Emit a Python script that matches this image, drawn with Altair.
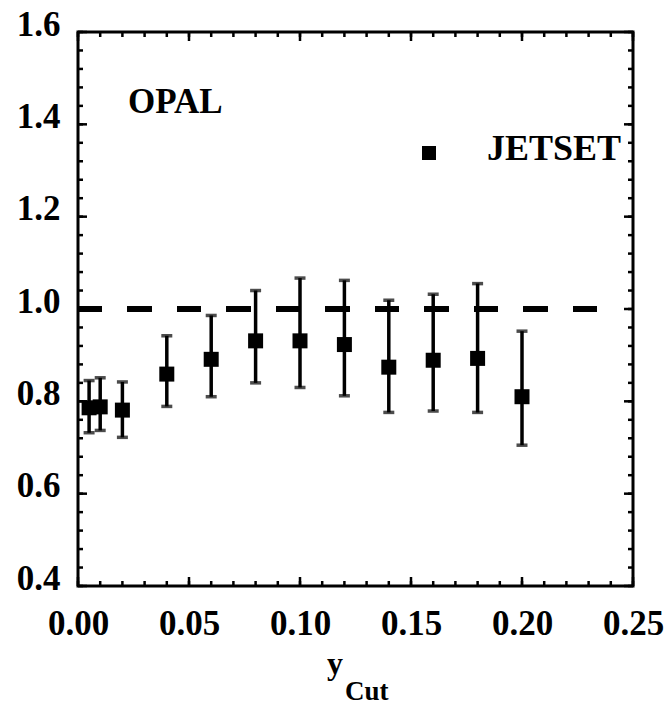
import altair as alt
import pandas as pd

# ---- data ----
ycut = [0.005, 0.01, 0.02, 0.04, 0.06, 0.08, 0.10, 0.12, 0.14, 0.16, 0.18, 0.20]
ratio = [0.786, 0.788, 0.781, 0.859, 0.891, 0.931, 0.931, 0.923, 0.874, 0.889, 0.893, 0.810]
err_hi = [0.845, 0.851, 0.842, 0.942, 0.986, 1.040, 1.067, 1.062, 1.019, 1.032, 1.055, 0.952]
err_lo = [0.732, 0.737, 0.722, 0.789, 0.810, 0.840, 0.830, 0.812, 0.776, 0.779, 0.776, 0.705]

x_major = [0.00, 0.05, 0.10, 0.15, 0.20, 0.25]
y_major = [0.4, 0.6, 0.8, 1.0, 1.2, 1.4, 1.6]
x_minor = [round(i * 0.01, 2) for i in range(26)]
y_minor = [round(0.4 + i * 0.04, 2) for i in range(31)]

ref_level = 1.0
ref_end = 0.2345

W, H = 555, 554
FONT = "Liberation Serif"

df = pd.DataFrame({"ycut": ycut, "ratio": ratio, "hi": err_hi, "lo": err_lo})

xs = alt.Scale(domain=[0, 0.25], nice=False, zero=False)
ys = alt.Scale(domain=[0.4, 1.6], nice=False, zero=False)

xaxis = alt.Axis(values=x_major, format=".2f", ticks=False, domain=False, grid=False,
                 labelFont=FONT, labelFontWeight="bold", labelFontSize=35, labelColor="black",
                 labelPadding=20, title=None, labelFlush=False)
yaxis = alt.Axis(values=y_major, format=".1f", ticks=False, domain=False, grid=False,
                 labelFont=FONT, labelFontWeight="bold", labelFontSize=35, labelColor="black",
                 labelPadding=18, labelOffset=-8, title=None, labelFlush=False)

base = alt.Chart(df)

dash = base.mark_rule(color="black", strokeWidth=5, strokeDash=[24, 25.5]).encode(
    x=alt.datum(0, scale=xs, axis=xaxis, type="quantitative"),
    x2=alt.datum(ref_end),
    y=alt.datum(ref_level, scale=ys, axis=yaxis, type="quantitative"),
)

bars = base.mark_rule(color="black", strokeWidth=3.5).encode(
    x=alt.X("ycut:Q", scale=xs, axis=xaxis),
    y=alt.Y("lo:Q", scale=ys, axis=yaxis),
    y2="hi:Q",
)
cap_hi = base.mark_tick(color="black", orient="horizontal", size=11, thickness=3.5).encode(
    x=alt.X("ycut:Q", scale=xs), y=alt.Y("hi:Q", scale=ys)
)
cap_lo = base.mark_tick(color="black", orient="horizontal", size=11, thickness=3.5).encode(
    x=alt.X("ycut:Q", scale=xs), y=alt.Y("lo:Q", scale=ys)
)
pts = base.mark_square(color="black", size=225, opacity=1).encode(
    x=alt.X("ycut:Q", scale=xs), y=alt.Y("ratio:Q", scale=ys)
)

# inward ticks on all four sides
xmaj = pd.DataFrame({"v": x_major})
xmin = pd.DataFrame({"v": x_minor})
ymaj = pd.DataFrame({"v": y_major})
ymin = pd.DataFrame({"v": y_minor})
MAJ, MIN = 9, 5

def xticks(d, L):
    b = alt.Chart(d).mark_rule(color="black", strokeWidth=2.5).encode(
        x=alt.X("v:Q", scale=xs), y=alt.value(H), y2=alt.value(H - L))
    t = alt.Chart(d).mark_rule(color="black", strokeWidth=2.5).encode(
        x=alt.X("v:Q", scale=xs), y=alt.value(0), y2=alt.value(L))
    return [b, t]

def yticks(d, L):
    l = alt.Chart(d).mark_rule(color="black", strokeWidth=2.5).encode(
        y=alt.Y("v:Q", scale=ys), x=alt.value(0), x2=alt.value(L))
    r = alt.Chart(d).mark_rule(color="black", strokeWidth=2.5).encode(
        y=alt.Y("v:Q", scale=ys), x=alt.value(W), x2=alt.value(W - L))
    return [l, r]

tick_layers = xticks(xmin, MIN) + xticks(xmaj, MAJ) + yticks(ymin, MIN) + yticks(ymaj, MAJ)

# annotations
ann = pd.DataFrame({"a": [0]})
opal = alt.Chart(ann).mark_text(text="OPAL", font=FONT, fontWeight="bold", fontSize=35,
                                align="left", baseline="alphabetic", color="black").encode(
    x=alt.value(50), y=alt.value(81))
jet_sq = alt.Chart(ann).mark_square(color="black", size=196, opacity=1).encode(
    x=alt.value(351), y=alt.value(121))
jet_txt = alt.Chart(ann).mark_text(text="JETSET", font=FONT, fontWeight="bold", fontSize=36,
                                   align="left", baseline="alphabetic", color="black").encode(
    x=alt.value(409), y=alt.value(128))
t_y = alt.Chart(ann).mark_text(text="y", font=FONT, fontWeight="bold", fontSize=32,
                               align="center", baseline="alphabetic", color="black").encode(
    x=alt.value(257), y=alt.value(642))
t_cut = alt.Chart(ann).mark_text(text="Cut", font=FONT, fontWeight="bold", fontSize=27,
                                 align="left", baseline="alphabetic", color="black").encode(
    x=alt.value(267), y=alt.value(668))

chart = alt.layer(
    dash, bars, cap_hi, cap_lo, pts, *tick_layers, opal, jet_sq, jet_txt, t_y, t_cut
).properties(
    width=W, height=H,
    autosize=alt.AutoSizeParams(type="none"),
    padding={"left": 78, "top": 32, "right": 34, "bottom": 122},
    background="white",
).configure_view(stroke="black", strokeWidth=3)

chart.save("out.html", embed_options={"renderer": "svg", "actions": False})
